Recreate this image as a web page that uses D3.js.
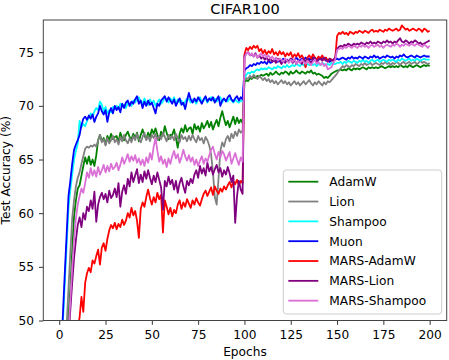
<!DOCTYPE html>
<html lang="en">
<head>
<meta charset="UTF-8">
<title>CIFAR100</title>
<script src="https://d3js.org/d3.v7.min.js"></script>
<style>
    body { margin: 0; background: #fff; }
    text { font-family: "DejaVu Sans", sans-serif; fill: #000; }
</style>
</head>
<body>
<div id="chart"></div>
<script>
    // epochs 1..200
    const epochs = d3.range(1, 201);
    const xTicks = [0, 25, 50, 75, 100, 125, 150, 175, 200];
    const yTicks = [50, 55, 60, 65, 70, 75];
    const names = ["AdamW", "Lion", "Shampoo", "Muon", "MARS-AdamW", "MARS-Lion", "MARS-Shampoo"];
    const colors = ["green", "gray", "cyan", "blue", "red", "purple", "orchid"];

    const adamw = [
        40.0, 43.0, 46.0, 48.5, 50.5, 53.0, 56.5, 59.7, 61.2, 62.3,
        62.6, 63.5, 64.4, 65.2, 64.6, 65.3, 64.5, 65.0, 64.4, 65.4,
        66.8, 67.3, 66.7, 67.0, 66.4, 67.2, 66.8, 67.4, 66.9, 67.1,
        67.2, 66.6, 67.5, 67.0, 66.8, 67.3, 67.6, 67.1, 66.9, 67.4,
        67.0, 67.5, 66.7, 67.3, 67.8, 67.2, 66.9, 67.5, 67.1, 67.8,
        67.4, 67.9, 67.3, 66.8, 67.6, 67.2, 68.1, 67.5, 66.9, 67.3,
        67.3, 67.8, 67.0, 66.1, 67.4, 67.9, 67.5, 68.2, 67.6, 67.9,
        68.0, 67.4, 68.3, 67.8, 68.1, 67.6, 68.4, 67.9, 68.2, 68.6,
        68.0, 68.5, 67.8, 68.3, 68.7, 68.1, 68.9, 69.5, 68.8, 68.2,
        68.6, 68.0, 68.5, 69.0, 68.3, 68.9, 68.4, 68.7, 68.4, 72.2,
        72.4, 72.3, 72.6, 72.5, 72.7, 72.6, 72.8, 72.7, 72.9, 72.8,
        72.9, 73.0, 72.8, 73.1, 72.9, 73.0, 73.2, 73.0, 72.9, 73.1,
        73.0, 73.2, 73.1, 72.9, 73.2, 73.0, 73.1, 73.3, 73.1, 73.0,
        73.2, 73.1, 73.0, 73.2, 73.1, 73.3, 73.0, 73.1, 72.9, 73.0,
        72.9, 72.8, 72.6, 72.7, 72.6, 72.8, 73.0, 73.1, 73.2, 73.3,
        73.3, 73.4, 73.3, 73.4, 73.3, 73.5, 73.4, 73.3, 73.5, 73.4,
        73.5, 73.4, 73.5, 73.6, 73.5, 73.4, 73.6, 73.5, 73.6, 73.5,
        73.6, 73.5, 73.6, 73.7, 73.6, 73.5, 73.6, 73.7, 73.6, 73.7,
        73.6, 73.7, 73.6, 73.8, 73.7, 73.6, 73.7, 73.6, 73.8, 73.7,
        73.6, 73.7, 73.8, 73.7, 73.6, 73.7, 73.8, 73.7, 73.8, 73.7
    ];

    const lion = [
        40.5, 44.0, 47.5, 49.5, 53.0, 56.3, 59.5, 61.2, 62.5, 63.3,
        63.8, 64.6, 65.3, 66.0, 66.2, 66.1, 66.3, 66.2, 66.4, 66.2,
        66.8, 67.3, 66.6, 66.9, 66.3, 67.0, 66.5, 66.8, 67.2, 66.6,
        66.9, 66.4, 67.1, 66.7, 67.3, 66.8, 66.5, 67.0, 66.6, 67.2,
        66.8, 67.4, 66.9, 66.6, 67.1, 67.5, 66.8, 67.2, 66.7, 67.3,
        67.0, 67.4, 66.8, 67.2, 66.9, 67.5, 67.1, 66.7, 67.3, 66.9,
        67.2, 66.8, 67.4, 67.0, 66.6, 67.3, 66.9, 67.1, 66.7, 67.2,
        66.8, 67.3, 66.9, 66.6, 67.2, 66.8, 67.0, 66.5, 67.1, 66.8,
        66.3, 65.5, 63.8, 61.5, 60.8, 63.2, 65.8, 66.6, 66.2, 66.9,
        67.2, 66.7, 67.4, 67.0, 67.6, 67.2, 67.8, 67.5, 67.7, 72.4,
        72.6, 72.5, 72.8, 72.6, 72.9, 72.7, 72.5, 72.8, 72.6, 72.4,
        72.6, 72.3, 72.5, 72.2, 72.4, 72.1, 72.3, 72.0, 72.2, 72.4,
        72.1, 72.3, 72.0, 72.2, 71.9, 72.1, 72.3, 72.0, 72.2, 71.9,
        72.1, 72.3, 72.0, 72.2, 72.4, 72.1, 71.9, 72.2, 72.0, 72.3,
        72.1, 71.9, 72.2, 72.0, 72.3, 72.2, 72.4, 72.6, 72.8, 73.0,
        73.3, 73.5, 73.7, 73.6, 73.8, 73.7, 73.6, 73.8, 73.7, 73.9,
        73.8, 73.7, 73.9, 73.8, 74.0, 73.8, 73.9, 74.0, 73.8, 73.9,
        74.0, 73.9, 73.8, 74.0, 73.9, 74.1, 73.9, 74.0, 73.8, 74.0,
        73.9, 74.1, 74.0, 73.8, 74.0, 74.1, 73.9, 74.0, 74.1, 73.9,
        74.0, 74.1, 73.9, 74.0, 74.2, 74.0, 74.1, 74.0, 73.9, 74.0
    ];

    const shampoo = [
        46.0, 49.8, 53.5, 57.0, 60.5, 62.2, 63.6, 65.0, 65.8, 66.5,
        68.6, 68.0, 68.3, 68.1, 68.6, 68.9, 69.3, 69.0, 69.5, 69.8,
        69.6, 70.4, 70.1, 69.5, 69.9, 69.3, 69.6, 69.4, 69.9, 69.7,
        70.0, 69.7, 70.2, 69.9, 70.1, 69.8, 70.3, 70.2, 70.0, 70.5,
        70.3, 70.6, 70.8, 70.4, 70.2, 70.7, 70.3, 70.1, 70.6, 70.2,
        70.5, 70.0, 70.3, 70.6, 70.2, 70.4, 70.8, 70.6, 70.3, 70.7,
        70.4, 70.8, 70.2, 70.6, 70.3, 70.5, 70.1, 70.4, 70.7, 70.6,
        70.3, 70.6, 70.5, 70.2, 70.6, 70.8, 70.4, 70.5, 70.7, 70.3,
        70.6, 70.8, 70.5, 70.7, 70.4, 70.6, 70.8, 70.3, 70.6, 70.5,
        70.4, 70.7, 70.5, 70.3, 70.6, 70.4, 70.3, 70.5, 70.4, 72.6,
        72.9, 73.1, 73.0, 73.2, 73.1, 73.3, 73.4, 73.3, 73.5, 73.4,
        73.5, 73.4, 73.6, 73.5, 73.4, 73.6, 73.5, 73.7, 73.6, 73.5,
        73.7, 73.6, 73.8, 73.6, 73.7, 73.8, 73.7, 73.9, 73.8, 73.7,
        73.9, 73.8, 73.7, 73.9, 73.8, 74.0, 73.8, 73.9, 73.7, 73.9,
        73.8, 74.0, 73.9, 73.8, 73.9, 73.8, 74.0, 73.9, 73.9, 74.0,
        74.0, 74.1, 73.9, 74.1, 74.0, 74.2, 74.1, 74.0, 74.2, 74.1,
        74.0, 74.2, 74.1, 74.3, 74.1, 74.2, 74.0, 74.2, 74.3, 74.1,
        74.2, 74.3, 74.1, 74.2, 74.3, 74.2, 74.1, 74.3, 74.2, 74.3,
        74.2, 74.1, 74.3, 74.2, 74.4, 74.3, 74.2, 74.3, 74.4, 74.2,
        74.3, 74.2, 74.4, 74.3, 74.2, 74.3, 74.4, 74.3, 74.3, 74.3
    ];

    const muon = [
        47.0, 50.6, 54.4, 58.0, 61.6, 63.0, 64.6, 65.9, 66.4, 66.8,
        67.3, 68.2, 68.8, 69.0, 68.7, 69.1, 68.8, 69.2, 68.5, 69.0,
        69.3, 70.0, 69.5, 69.2, 69.6, 68.5, 69.4, 69.8, 69.3, 70.0,
        69.6, 69.9, 69.4, 70.2, 69.8, 70.3, 70.5, 70.0, 70.4, 70.2,
        70.6, 70.9, 70.2, 70.5, 69.8, 70.4, 70.0, 70.5, 70.1, 70.3,
        69.8, 69.3, 70.2, 70.0, 70.5, 70.7, 70.9, 70.4, 70.8, 70.5,
        70.2, 70.6, 70.0, 70.4, 70.7, 70.1, 70.3, 69.7, 70.5, 71.2,
        70.6, 70.3, 70.7, 70.4, 70.8, 70.5, 70.2, 70.6, 70.9, 70.4,
        70.7, 70.5, 70.8, 70.3, 70.6, 70.9, 70.0, 70.5, 70.7, 70.4,
        70.8, 71.0, 70.6, 70.4, 70.7, 70.9, 70.5, 70.8, 70.6, 73.3,
        73.5, 73.6, 73.8, 73.7, 73.9, 73.8, 74.0, 73.9, 74.1, 74.0,
        74.1, 73.9, 74.2, 74.0, 74.1, 74.3, 74.2, 74.1, 74.3, 74.2,
        74.4, 74.2, 74.3, 74.1, 74.4, 74.3, 74.2, 74.5, 74.3, 74.2,
        74.4, 74.3, 74.5, 74.2, 74.4, 74.3, 74.5, 74.4, 74.2, 74.3,
        74.5, 74.3, 74.4, 74.2, 74.3, 74.1, 74.3, 74.2, 74.3, 74.4,
        74.3, 74.4, 74.5, 74.4, 74.3, 74.5, 74.4, 74.6, 74.4, 74.5,
        74.4, 74.6, 74.5, 74.4, 74.6, 74.5, 74.4, 74.6, 74.5, 74.7,
        74.5, 74.6, 74.4, 74.5, 74.6, 74.5, 74.7, 74.6, 74.5, 74.6,
        74.4, 74.6, 74.5, 74.7, 74.6, 74.8, 74.6, 74.5, 74.6, 74.7,
        74.6, 74.5, 74.7, 74.6, 74.5, 74.6, 74.7, 74.6, 74.6, 74.6
    ];

    const marsAdamw = [
        30.0, 33.0, 36.0, 38.5, 41.0, 43.0, 44.8, 46.5, 48.0, 49.3,
        50.3, 52.2, 50.8, 53.5, 54.4, 54.9, 54.5, 55.6, 55.3, 56.0,
        56.6, 55.2, 56.8, 57.2, 56.5, 57.6, 58.4, 58.9, 58.6, 59.1,
        58.5, 59.0, 58.7, 59.4, 58.9, 59.3, 60.0, 59.6, 60.5, 59.8,
        60.2, 59.3, 57.7, 60.4, 61.0, 60.6, 61.5, 62.2, 61.4, 60.8,
        61.5, 61.0, 61.9, 61.3, 61.7, 58.2, 61.2, 60.6, 59.9, 60.5,
        59.7, 60.3, 60.0, 60.8, 61.2, 60.4, 61.0, 60.6, 61.3, 60.9,
        60.5, 61.2, 60.8, 61.4, 61.0, 60.7, 61.3, 61.8, 62.1, 61.6,
        62.0, 62.4, 61.7, 62.5, 62.1, 61.8, 62.3, 62.0, 62.5, 62.2,
        62.6, 62.9, 62.4, 63.0, 62.7, 63.1, 62.6, 63.0, 62.8, 74.8,
        75.4, 75.2, 75.5, 75.3, 75.6, 75.4, 75.6, 75.1, 75.3, 74.9,
        75.2, 74.8, 75.1, 74.9, 75.3, 74.8, 75.0, 74.7, 75.1, 74.8,
        75.0, 74.6, 74.9, 74.7, 75.0, 74.5, 74.8, 74.6, 74.9, 74.5,
        74.7, 74.4, 73.6, 74.5, 74.7, 74.4, 74.8, 74.5, 74.3, 74.6,
        74.4, 74.7, 74.3, 74.5, 74.2, 74.4, 74.3, 74.2, 74.4, 76.5,
        76.8, 76.7, 76.9, 76.7, 76.8, 76.6, 76.9, 76.8, 76.7, 76.9,
        76.8, 77.0, 76.9, 76.8, 77.0, 76.9, 76.8, 77.0, 77.1, 76.9,
        77.0, 76.9, 77.1, 77.0, 76.9, 77.1, 77.0, 77.2, 77.1, 77.0,
        77.1, 77.2, 77.0, 77.1, 77.5, 77.3, 77.1, 77.2, 77.0, 77.1,
        77.2, 77.1, 77.0, 77.2, 77.1, 76.9, 77.2, 77.1, 76.9, 77.0
    ];

    const marsLion = [
        37.0, 40.0, 43.0, 46.0, 48.5, 51.0, 53.5, 55.8, 57.5, 58.9,
        59.6, 58.7, 60.0, 59.4, 60.6, 60.2, 61.2, 60.4, 62.0, 59.2,
        60.8, 61.5, 61.9, 61.3, 61.8, 61.0, 62.1, 61.4, 61.7, 62.3,
        61.5, 62.8, 60.6, 62.0, 62.6, 61.8, 63.2, 62.5, 63.8, 62.9,
        63.5, 64.1, 62.8, 63.6, 62.9, 63.9, 63.2, 64.0, 63.3, 62.7,
        63.5, 62.9, 63.8, 63.1, 62.4, 60.3, 63.0, 62.5, 63.4, 62.7,
        63.1, 62.2, 63.0, 61.9, 62.8, 63.3, 62.5, 61.9, 63.0, 62.6,
        63.2, 62.8, 63.6, 64.0, 63.3, 64.4, 63.7, 64.2, 63.5, 64.7,
        63.9, 64.3, 63.6, 64.1, 64.5, 63.8, 64.2, 63.4, 64.0, 63.6,
        64.3, 63.7, 62.9, 63.5, 59.1, 61.6, 63.0, 62.2, 61.8, 74.6,
        74.9, 75.0, 74.7, 74.8, 74.6, 74.9, 74.5, 74.7, 74.4, 74.6,
        74.3, 74.5, 74.2, 74.4, 74.1, 74.3, 74.0, 74.4, 74.2, 73.9,
        74.2, 74.0, 74.3, 74.1, 74.4, 74.0, 74.3, 73.9, 74.2, 74.1,
        73.9, 74.3, 74.1, 74.4, 74.2, 74.0, 74.3, 74.5, 74.1, 74.3,
        74.4, 74.2, 74.5, 74.3, 74.1, 74.4, 74.2, 74.3, 74.5, 75.3,
        75.5, 75.6, 75.5, 75.7, 75.6, 75.8, 75.7, 75.6, 75.8, 75.7,
        75.8, 75.7, 75.9, 75.8, 75.7, 75.9, 75.8, 76.0, 75.8, 75.9,
        75.8, 76.0, 75.9, 75.8, 76.0, 75.9, 76.1, 75.9, 76.0, 75.8,
        76.0, 75.9, 76.1, 76.3, 76.0, 75.9, 76.1, 76.0, 75.8, 76.0,
        75.9, 76.1, 76.0, 75.8, 75.9, 75.7, 75.8, 75.9, 76.0, 76.1
    ];

    const marsShampoo = [
        38.0, 41.0, 44.0, 46.5, 49.0, 52.0, 55.0, 57.5, 59.5, 60.8,
        61.6, 62.3, 61.9, 62.8, 63.8, 63.3, 64.2, 63.5, 64.0, 63.4,
        64.3, 63.6, 64.0, 64.5, 63.8, 64.4, 63.9, 64.6, 64.1, 64.3,
        64.7, 64.0, 64.5, 65.2, 64.6, 65.0, 65.5, 64.8, 65.3, 64.9,
        65.4, 64.7, 65.1, 64.5, 65.0, 64.4, 65.2, 64.7, 65.6, 65.0,
        66.2, 67.0, 65.8, 64.8, 65.3, 64.6, 65.0, 64.3, 65.1, 64.6,
        65.3, 65.8, 65.1, 65.5, 64.7, 65.2, 65.9, 65.3, 64.9, 65.4,
        64.8, 65.2, 64.5, 65.0, 64.4, 64.9, 65.3, 64.6, 65.1, 64.8,
        65.4, 65.9, 66.2, 65.5, 65.0, 65.7, 65.2, 65.8, 65.5, 64.9,
        65.3, 65.7, 64.6, 65.1, 65.6, 65.0, 64.5, 65.2, 64.8, 74.4,
        74.9, 75.0, 74.7, 74.9, 74.6, 74.8, 74.5, 74.7, 74.9, 74.6,
        74.8, 74.5, 74.7, 74.4, 74.6, 74.3, 74.5, 74.2, 74.4, 74.3,
        74.1, 74.4, 74.2, 74.0, 74.3, 74.1, 74.4, 73.9, 74.2, 74.0,
        74.3, 74.1, 73.9, 74.2, 74.0, 73.8, 74.1, 74.3, 73.9, 74.1,
        73.8, 74.0, 73.7, 73.9, 73.4, 73.5, 73.6, 74.0, 74.3, 75.2,
        75.3, 75.4, 75.3, 75.5, 75.4, 75.6, 75.5, 75.4, 75.6, 75.5,
        75.4, 75.6, 75.5, 75.7, 75.5, 75.6, 75.4, 75.6, 75.7, 75.5,
        75.6, 75.7, 75.5, 75.6, 75.4, 75.6, 75.7, 75.6, 75.5, 75.7,
        75.6, 75.8, 75.7, 75.5, 75.7, 75.6, 75.8, 75.7, 75.6, 75.8,
        75.7, 75.6, 75.8, 75.7, 75.6, 75.5, 75.7, 75.6, 75.4, 75.6
    ];

    const seriesValues = [adamw, lion, shampoo, muon, marsAdamw, marsLion, marsShampoo];

    const W = 449, H = 360;
    const plot = { left: 43.3, right: 446.7, top: 20, bottom: 320.5 };

    const svg = d3.select("#chart")
        .append("svg")
        .attr("width", W)
        .attr("height", H);

    const x = d3.scaleLinear().domain([-8.6, 209.2]).range([plot.left, plot.right]);
    const y = d3.scaleLinear().domain([50, 78.0]).range([plot.bottom, plot.top]);

    svg.append("defs").append("clipPath")
        .attr("id", "clip")
        .append("rect")
        .attr("x", plot.left)
        .attr("y", plot.top)
        .attr("width", plot.right - plot.left)
        .attr("height", plot.bottom - plot.top);

    const line = d3.line()
        .x((d, i) => x(epochs[i]))
        .y(d => y(d));

    svg.append("g")
        .attr("clip-path", "url(#clip)")
        .selectAll("path")
        .data(seriesValues)
        .enter()
        .append("path")
        .attr("d", d => line(d))
        .attr("fill", "none")
        .attr("stroke", (d, i) => colors[i])
        .attr("stroke-width", 1.8)
        .attr("stroke-linejoin", "round");

    // axes
    const xAxis = svg.append("g")
        .attr("transform", `translate(0,${plot.bottom})`)
        .call(d3.axisBottom(x).tickValues(xTicks).tickSize(4.3).tickPadding(6));
    const yAxis = svg.append("g")
        .attr("transform", `translate(${plot.left},0)`)
        .call(d3.axisLeft(y).tickValues(yTicks).tickSize(4.3).tickPadding(5));

    [xAxis, yAxis].forEach(a => {
        a.select(".domain").remove();
        a.selectAll("line").attr("stroke", "#333").attr("stroke-width", 1);
        a.selectAll("text")
            .style("font-family", "DejaVu Sans, sans-serif")
            .style("font-size", "12.2px")
            .attr("fill", "#000");
    });

    svg.append("rect")
        .attr("x", plot.left)
        .attr("y", plot.top)
        .attr("width", plot.right - plot.left)
        .attr("height", plot.bottom - plot.top)
        .attr("fill", "none")
        .attr("stroke", "#444")
        .attr("stroke-width", 1);

    svg.append("text")
        .attr("x", (plot.left + plot.right) / 2)
        .attr("y", 13.5)
        .attr("text-anchor", "middle")
        .style("font-size", "14.6px")
        .text("CIFAR100");

    svg.append("text")
        .attr("x", (plot.left + plot.right) / 2)
        .attr("y", 356)
        .attr("text-anchor", "middle")
        .style("font-size", "12.2px")
        .text("Epochs");

    svg.append("text")
        .attr("transform", `translate(10.3,${(plot.top + plot.bottom) / 2}) rotate(-90)`)
        .attr("text-anchor", "middle")
        .style("font-size", "12.2px")
        .text("Test Accuracy (%)");

    // legend
    const legend = svg.append("g");
    legend.append("rect")
        .attr("x", 283.3)
        .attr("y", 170)
        .attr("width", 158.4)
        .attr("height", 144)
        .attr("rx", 3)
        .attr("fill", "#fff")
        .attr("fill-opacity", 0.8)
        .attr("stroke", "#ccc")
        .attr("stroke-width", 1);

    const items = legend.selectAll(".legend")
        .data(names)
        .enter()
        .append("g")
        .attr("class", "legend")
        .attr("transform", (d, i) => `translate(0,${181.7 + i * 19.83})`);

    items.append("line")
        .attr("x1", 288.3)
        .attr("x2", 318.3)
        .attr("stroke", (d, i) => colors[i])
        .attr("stroke-width", 1.8);

    items.append("text")
        .attr("x", 329.3)
        .attr("dy", "0.36em")
        .style("font-size", "12.2px")
        .text(d => d);
</script>
</body>
</html>
